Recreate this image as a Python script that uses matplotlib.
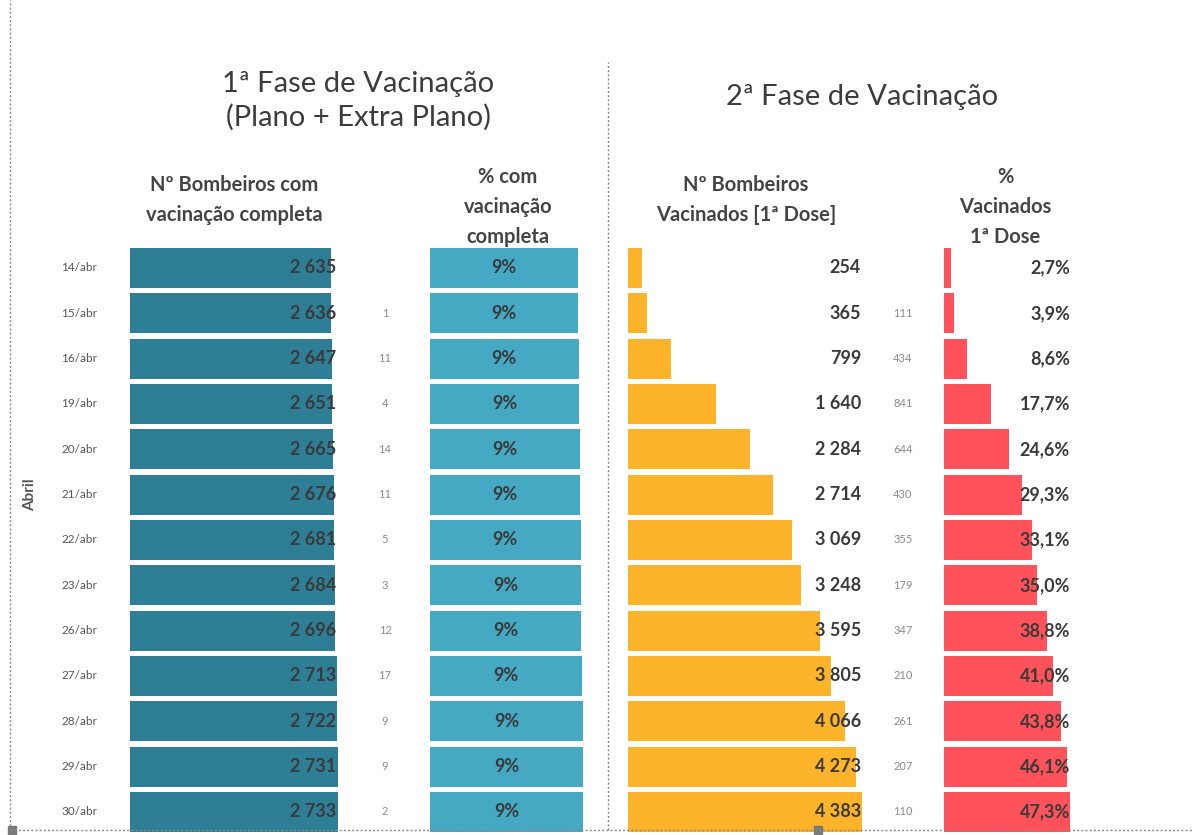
import numpy as np
import matplotlib.pyplot as plt
from matplotlib.lines import Line2D
from matplotlib.patches import Rectangle

# data
dias = ['14/abr', '15/abr', '16/abr', '19/abr', '20/abr', '21/abr', '22/abr',
        '23/abr', '26/abr', '27/abr', '28/abr', '29/abr', '30/abr']
completa = [2635, 2636, 2647, 2651, 2665, 2676, 2681, 2684, 2696, 2713, 2722, 2731, 2733]
novos_completa = ['', '1', '11', '4', '14', '11', '5', '3', '12', '17', '9', '9', '2']
pct_completa = [8.99, 8.99, 9.03, 9.04, 9.09, 9.13, 9.15, 9.16, 9.20, 9.26, 9.29, 9.32, 9.32]
dose1 = [254, 365, 799, 1640, 2284, 2714, 3069, 3248, 3595, 3805, 4066, 4273, 4383]
novos_dose1 = ['', '111', '434', '841', '644', '430', '355', '179', '347', '210', '261', '207', '110']
pct_dose1 = [2.7, 3.9, 8.6, 17.7, 24.6, 29.3, 33.1, 35.0, 38.8, 41.0, 43.8, 46.1, 47.3]

plt.rcParams['font.family'] = ['Lato', 'DejaVu Sans']

W, H = 1193, 835
fig = plt.figure(figsize=(W/100, H/100), dpi=100)

def px(x0, x1):
    # pixel span -> figure fraction for an axes row block
    top, bot = 245.3, 834.6
    return [x0/W, 1-bot/H, (x1-x0)/W, (bot-top)/H]

y = np.arange(len(dias))
cinza = '#3a3a3a'

def painel(x0, x1, vals, cor, xmax):
    ax = fig.add_axes(px(x0, x1))
    ax.barh(y, vals, height=0.88, color=cor)
    ax.set_xlim(0, xmax)
    ax.set_ylim(len(dias)-0.5, -0.5)
    ax.axis('off')
    ax.patch.set_alpha(0)
    return ax

ax1 = painel(130, 345, completa, '#2e7f95', 215/0.0762)
ax2 = painel(430, 590, pct_completa, '#46a9c4', 160/16.46)
ax3 = painel(628, 880, dose1, '#fdb32a', 252/0.0534)
ax4 = painel(944, 1100, pct_dose1, '#ff525a', 156/2.66)

for i in range(len(dias)):
    ax1.text(206/0.0762, i, f'{completa[i]:,}'.replace(',', ' '), ha='right', va='center',
             fontsize=13, fontweight='bold', color=cinza)
    ax2.text(pct_completa[i]/2, i, f'{round(pct_completa[i]):.0f}%', ha='center', va='center',
             fontsize=13, fontweight='bold', color=cinza)
    ax3.text(233/0.0534, i, f'{dose1[i]:,}'.replace(',', ' '), ha='right', va='center',
             fontsize=13, fontweight='bold', color=cinza)
    ax4.text(126/2.66, i, f'{pct_dose1[i]:.1f}%'.replace('.', ','), ha='right', va='center',
             fontsize=13, fontweight='bold', color=cinza)
    ax1.text(-33/0.0762, i, dias[i], ha='right', va='center', fontsize=8.5, color='#555555')
    ax1.text(255/0.0762, i, novos_completa[i], ha='center', va='center', fontsize=8, color='#8a8a8a')
    ax3.text(275/0.0534, i, novos_dose1[i], ha='center', va='center', fontsize=8, color='#8a8a8a')

fig.text(30/W, 1-495/H, 'Abril', rotation=90, ha='center', va='center',
         fontsize=11, fontweight='bold', color='#555555')

# titles
fig.text(358/W, 1-101/H, '1ª Fase de Vacinação\n(Plano + Extra Plano)', ha='center', va='center',
         fontsize=21, color='#3c3c3c', linespacing=1.3)
fig.text(862/W, 1-97/H, '2ª Fase de Vacinação', ha='center', va='center',
         fontsize=21, color='#3c3c3c')

# column headers
kw = dict(ha='center', va='center', fontsize=14.5, fontweight='bold', color='#444444',
          linespacing=1.65, zorder=-1)
fig.text(234/W, 1-200/H, 'Nº Bombeiros com\nvacinação completa', **kw)
fig.text(508/W, 1-207/H, '% com\nvacinação\ncompleta', **kw)
fig.text(746/W, 1-200/H, 'Nº Bombeiros\nVacinados [1ª Dose]', **kw)
fig.text(1005/W, 1-207/H, '%\nVacinados\n1ª Dose', **kw)

# dotted frame lines
ls = dict(color='#888888', linestyle=(0, (1.5, 1.5)), linewidth=1)
fig.add_artist(Line2D([10/W, 10/W], [1-830/H, 1], transform=fig.transFigure, **ls))
fig.add_artist(Line2D([10/W, 1], [1-830/H, 1-830/H], transform=fig.transFigure, **ls))
fig.add_artist(Line2D([608/W, 608/W], [1-830/H, 1-62/H], transform=fig.transFigure, **ls))
for hx in (12, 818):
    fig.add_artist(Rectangle(((hx-4)/W, 1-834/H), 8/W, 8/H, transform=fig.transFigure,
                             color='#7a7a7a'))

fig.savefig('out.png', dpi=100)
